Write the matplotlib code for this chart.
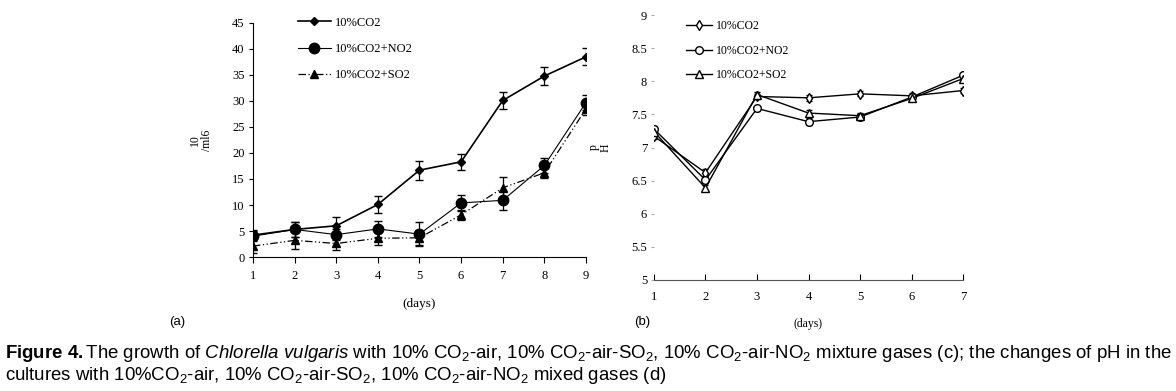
import numpy as np
import matplotlib.pyplot as plt

# Panel (a): cell density vs day
days_a = [1, 2, 3, 4, 5, 6, 7, 8, 9]
co2_a = [4.2, 5.3, 6.0, 10.1, 16.7, 18.3, 30.1, 34.8, 38.5]
co2_a_err = [1.0, 1.5, 1.6, 1.6, 1.8, 1.6, 1.7, 1.7, 1.6]
no2_a = [4.0, 5.3, 4.3, 5.4, 4.4, 10.4, 10.9, 17.6, 29.7]
no2_a_err = [1.0, 1.5, 1.0, 1.5, 2.3, 1.6, 1.8, 1.5, 1.5]
so2_a = [2.1, 3.2, 2.6, 3.6, 3.7, 8.1, 13.3, 16.2, 28.5]
so2_a_err = [1.3, 1.6, 1.3, 1.2, 1.4, 1.0, 2.0, 1.0, 1.2]

# Panel (b): pH vs day
days_b = [1, 2, 3, 4, 5, 6, 7]
co2_b = [7.17, 6.62, 7.77, 7.75, 7.81, 7.78, 7.86]
no2_b = [7.28, 6.51, 7.59, 7.39, 7.46, 7.76, 8.09]
so2_b = [7.24, 6.39, 7.80, 7.52, 7.48, 7.74, 8.04]
err_b = [0.04, 0.05, 0.04, 0.05, 0.04, 0.04, 0.04]

labels = ['10%CO2', '10%CO2+NO2', '10%CO2+SO2']

plt.rcParams['font.family'] = 'Liberation Serif'
plt.rcParams['font.size'] = 8.5
plt.rcParams['mathtext.fontset'] = 'custom'
plt.rcParams['mathtext.rm'] = 'Liberation Sans'
plt.rcParams['mathtext.it'] = 'Liberation Sans:italic'
plt.rcParams['mathtext.bf'] = 'Liberation Sans:bold'

fig = plt.figure(figsize=(11.76, 3.91), dpi=100)

# ---- panel (a)
ax1 = fig.add_axes([0.2151, 0.3427, 0.2832, 0.5985])
ax1.errorbar(days_a, co2_a, yerr=co2_a_err, color='black', lw=1.2, marker='D',
             ms=4.5, capsize=3, elinewidth=0.9, label=labels[0])
ax1.errorbar(days_a, no2_a, yerr=no2_a_err, color='black', lw=0.8, marker='o',
             ms=7.5, capsize=3, elinewidth=0.9, label=labels[1])
ax1.errorbar(days_a, so2_a, yerr=so2_a_err, color='black', lw=0.9, ls=(0, (6, 2, 1, 2, 1, 2)),
             marker='^', ms=6, capsize=3, elinewidth=0.9, label=labels[2])
ax1.set_xlim(1, 9)
ax1.set_ylim(0, 45)
ax1.set_xticks(days_a)
ax1.set_yticks(np.arange(0, 46, 5))
ax1.spines[['top', 'right']].set_visible(False)
ax1.spines[['left', 'bottom']].set_linewidth(0.8)
ax1.tick_params(axis='x', direction='out', length=4, pad=5, labelsize=9)
ax1.tick_params(axis='y', direction='out', length=3, pad=3, labelsize=9)
ax1.set_xlabel('(days)', fontsize=9.5, labelpad=12)
ax1.set_ylabel('10\n/ml6', fontsize=8.5, labelpad=14, linespacing=1.0)
h, l = ax1.get_legend_handles_labels()
h = [x[0] for x in h]
ax1.legend(h, l, loc='upper left', bbox_to_anchor=(0.1, 1.075), frameon=False,
           handlelength=2.7, handletextpad=0.3, labelspacing=1.15, fontsize=9)

# ---- panel (b)
ax2 = fig.add_axes([0.5561, 0.2839, 0.2628, 0.6777])
kw = dict(color='black', lw=1.0, mfc='white', capsize=2.5, elinewidth=0.8)
ax2.errorbar(days_b, co2_b, yerr=err_b, marker='d', ms=5, label=labels[0], **kw)
ax2.errorbar(days_b, no2_b, yerr=err_b, marker='o', ms=5.5, label=labels[1], **kw)
ax2.errorbar(days_b, so2_b, yerr=err_b, marker='^', ms=6, label=labels[2], **kw)
ax2.set_xlim(1, 7)
ax2.set_ylim(5, 9)
ax2.set_xticks(days_b)
ax2.set_yticks(np.arange(5, 9.01, 0.5))
ax2.set_yticklabels(['5', '5.5', '6', '6.5', '7', '7.5', '8', '8.5', '9'])
ax2.spines[['top', 'right', 'left']].set_visible(False)
ax2.spines['bottom'].set_linewidth(0.8)
ax2.spines['bottom'].set_color('#555555')
ax2.tick_params(axis='x', direction='in', length=4, pad=8, labelsize=9)
ax2.tick_params(axis='y', direction='out', length=2, pad=3, labelsize=9, color='#aaaaaa')
ax2.set_xlabel('(days)', fontsize=8.5, labelpad=11)
ax2.set_ylabel('p\nH', fontsize=8.5, labelpad=14, linespacing=1.0)
h, l = ax2.get_legend_handles_labels()
h = [x[0] for x in h]
ax2.legend(h, l, loc='upper left', bbox_to_anchor=(0.07, 1.02), frameon=False,
           handlelength=2.2, handletextpad=0.3, labelspacing=1.05, fontsize=8.5)

# panel tags
fig.text(177 / 1176, 1 - 322 / 391, '(a)', ha='center', va='center',
         family='Liberation Sans', fontsize=9.5)
fig.text(642 / 1176, 1 - 322 / 391, '(b)', ha='center', va='center',
         family='Liberation Sans', fontsize=9.5)

# caption, scaled so the first line spans the figure width like the reference
cap1 = (r'$\mathbf{Figure\ 4.}$The growth of $\mathit{Chlorella\ vulgaris}$ with 10% CO$_2$-air, '
        r'10% CO$_2$-air-SO$_2$, 10% CO$_2$-air-NO$_2$ mixture gases (c); the changes of pH in the')
cap2 = r'cultures with 10%CO$_2$-air, 10% CO$_2$-air-SO$_2$, 10% CO$_2$-air-NO$_2$ mixed gases (d)'
t1 = fig.text(5 / 1176, 1 - 353 / 391, cap1, ha='left', va='center',
              family='Liberation Sans', fontsize=12)
t2 = fig.text(5 / 1176, 1 - 375 / 391, cap2, ha='left', va='center',
              family='Liberation Sans', fontsize=12)
fig.canvas.draw()
w = t1.get_window_extent().width
size = 12 * 1163 / w
t1.set_fontsize(size)
t2.set_fontsize(size)

fig.savefig('out.png', dpi=100)
